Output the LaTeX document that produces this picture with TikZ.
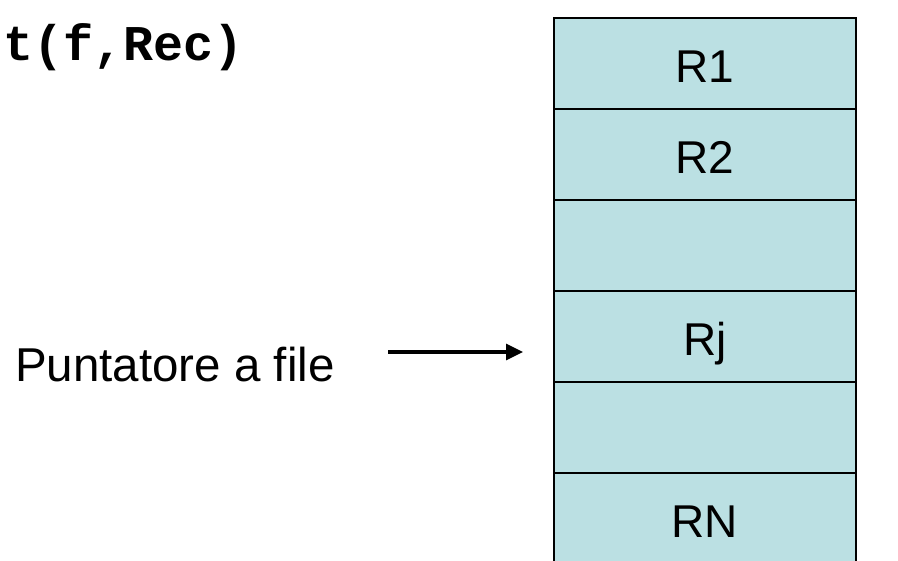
\documentclass[tikz,border=0pt]{standalone}
\usepackage{fontspec}
\setmainfont{Liberation Sans}
\newfontfamily\codefont{Liberation Mono}
\usetikzlibrary{positioning}
\usetikzlibrary{arrows.meta}
\definecolor{cellfill}{RGB}{187,224,227}

\begin{document}
\begin{tikzpicture}[x=1pt, y=-1pt,
      lab/.style={font=\fontsize{47.5}{56}\selectfont, inner sep=0pt},
      cell/.style={draw, fill=cellfill, line width=1.6pt,
        minimum width=302pt, minimum height=91pt,
        outer sep=0pt, inner sep=0pt,
        text height=38pt, text depth=0pt,
        font=\fontsize{46}{55}\selectfont},
      ptrarrow/.style={line width=3.2pt, -{Triangle[length=17pt, width=16pt]}}
      ]
    \useasboundingbox (0,0) rectangle (898,561);

    \node (call) [anchor=base west, inner sep=0pt,
      font=\codefont\bfseries\fontsize{50}{58}\selectfont] at (3,61) {t(f,Rec)};

    % the records of the file
    \node (r1) [cell, anchor=north west] at (554,18) {R1};
    \node (r2) [cell, below=0pt of r1] {R2};
    \node (r3) [cell, below=0pt of r2] {};
    \node (rj) [cell, below=0pt of r3] {Rj};
    \node (r5) [cell, below=0pt of rj] {};
    \node (rn) [cell, below=0pt of r5] {RN};

    \node (ptr) [lab, anchor=base west] at (15,382) {Puntatore a file};

    \coordinate (tail) at (388,352);
    \draw [ptrarrow, shorten >=31pt] (tail) -- (tail -| rj.west);
  \end{tikzpicture}
\end{document}
